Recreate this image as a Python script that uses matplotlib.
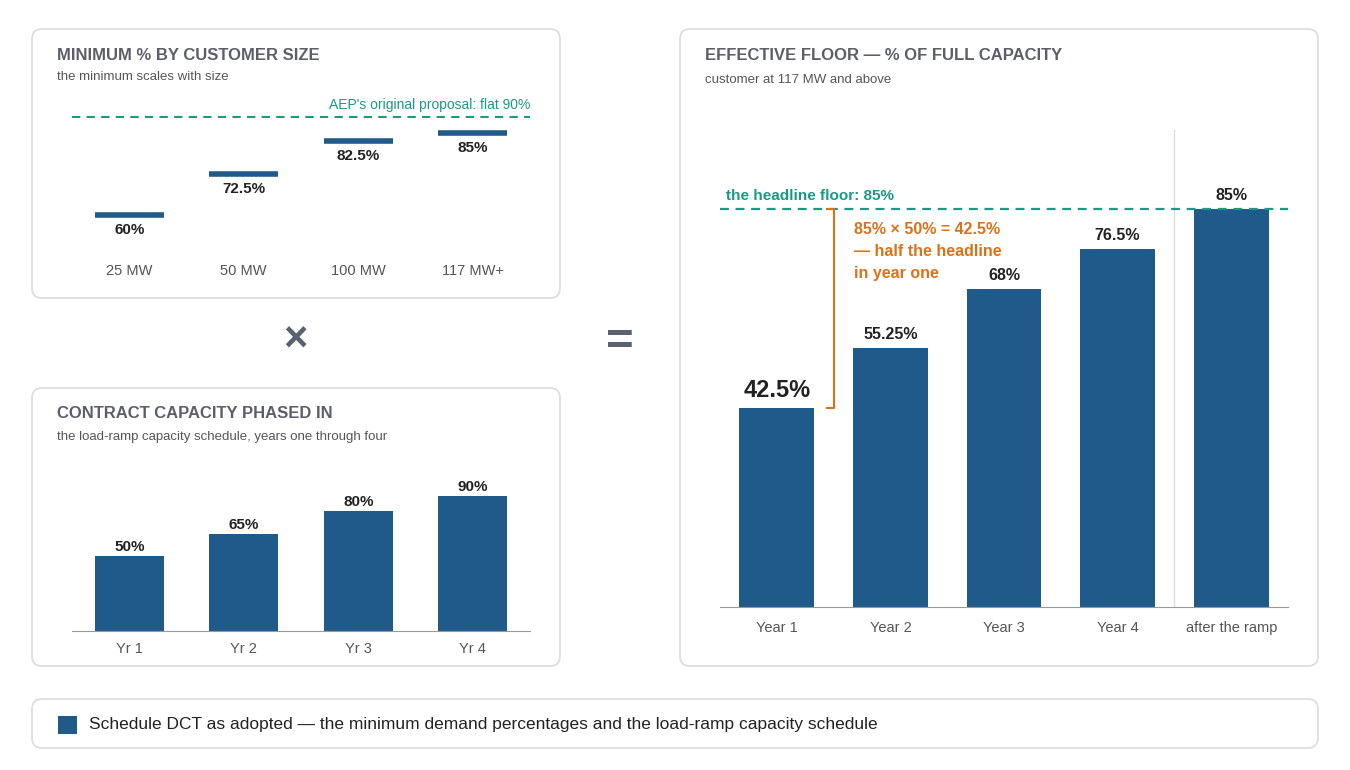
import matplotlib.pyplot as plt
from matplotlib.patches import FancyBboxPatch, Rectangle

plt.rcParams['font.family'] = ['Liberation Sans', 'DejaVu Sans']

BLUE = '#1f5a8a'
TEAL = '#1a9985'
ORANGE = '#d9731a'
TITLE = '#5a5f69'
GRAY = '#555555'

sizes = ['25 MW', '50 MW', '100 MW', '117 MW+']
min_pct = [60, 72.5, 82.5, 85]
min_lbl = ['60%', '72.5%', '82.5%', '85%']
aep_flat = 90

years = ['Yr 1', 'Yr 2', 'Yr 3', 'Yr 4']
ramp = [50, 65, 80, 90]
ramp_lbl = ['50%', '65%', '80%', '90%']

eff_cats = ['Year 1', 'Year 2', 'Year 3', 'Year 4', 'after the ramp']
eff = [42.5, 55.25, 68, 76.5, 85]
eff_lbl = ['42.5%', '55.25%', '68%', '76.5%', '85%']
headline = 85
note_lines = ['85% × 50% = 42.5%', '— half the headline', 'in year one']

W, H = 1350, 770
fig = plt.figure(figsize=(13.5, 7.7), dpi=100)
fig.patch.set_facecolor('white')

bg = fig.add_axes([0, 0, 1, 1])
bg.set_xlim(0, W)
bg.set_ylim(H, 0)
bg.axis('off')


def panel(x0, y0, x1, y1):
    bg.add_patch(FancyBboxPatch((x0, y0), x1 - x0, y1 - y0, boxstyle='round,pad=0,rounding_size=10',
                                fc='white', ec='#dcdcdc', lw=1.2))


def px_axes(x0, y0, x1, y1):
    ax = fig.add_axes([x0 / W, 1 - y1 / H, (x1 - x0) / W, (y1 - y0) / H])
    ax.patch.set_alpha(0)
    for s in ax.spines.values():
        s.set_visible(False)
    ax.set_yticks([])
    ax.tick_params(length=0, labelsize=10.5, labelcolor=GRAY)
    return ax


panel(32, 29, 560, 298)
panel(32, 388, 560, 666)
panel(680, 29, 1318, 666)
panel(32, 699, 1318, 748)

bg.text(57, 55, 'MINIMUM % BY CUSTOMER SIZE', fontsize=12, fontweight='bold', color=TITLE, va='center')
bg.text(57, 77, 'the minimum scales with size', fontsize=9.5, color=GRAY, va='center')
bg.text(57, 414, 'CONTRACT CAPACITY PHASED IN', fontsize=12, fontweight='bold', color=TITLE, va='center')
bg.text(57, 437, 'the load-ramp capacity schedule, years one through four', fontsize=9.5, color=GRAY, va='center')
bg.text(705, 55, 'EFFECTIVE FLOOR — % OF FULL CAPACITY', fontsize=12, fontweight='bold', color=TITLE, va='center')
bg.text(705, 80, 'customer at 117 MW and above', fontsize=9.5, color=GRAY, va='center')
bg.text(295, 340, '×', fontsize=30, fontweight='bold', color='#5a6270', ha='center', va='center')
bg.text(620, 343, '=', fontsize=34, fontweight='bold', color='#5a6270', ha='center', va='center')
bg.add_patch(Rectangle((58, 716), 19, 18, fc=BLUE))
bg.text(89, 725, 'Schedule DCT as adopted — the minimum demand percentages and the load-ramp capacity schedule',
        fontsize=12.5, color='#222222', va='center')

# top-left: minimum by size
ax1 = px_axes(72, 100, 530, 250)
ax1.set_xlim(-0.5, 3.5)
ax1.set_ylim(49.33, 95.06)
for i, v in enumerate(min_pct):
    ax1.hlines(v, i - 0.3, i + 0.3, color=BLUE, lw=4)
    ax1.text(i, v - 2.5, min_lbl[i], ha='center', va='top', fontsize=11, fontweight='bold', color='#222222')
ax1.axhline(aep_flat, color=TEAL, ls='--', lw=1.5, dashes=(4, 3))
ax1.text(3.5, aep_flat + 1.4, "AEP's original proposal: flat 90%", ha='right', va='bottom', fontsize=10, color=TEAL)
ax1.set_xticks(range(4))
ax1.set_xticklabels(sizes)
ax1.tick_params(axis='x', pad=10)

# bottom-left: ramp
ax2 = px_axes(72, 480, 530, 631)
ax2.set_xlim(-0.5, 3.5)
ax2.set_ylim(0, 101)
ax2.bar(range(4), ramp, width=0.6, color=BLUE)
for i, v in enumerate(ramp):
    ax2.text(i, v + 1.5, ramp_lbl[i], ha='center', va='bottom', fontsize=11, fontweight='bold', color='#222222')
ax2.spines['bottom'].set_visible(True)
ax2.spines['bottom'].set_color('#999999')
ax2.set_xticks(range(4))
ax2.set_xticklabels(years)
ax2.tick_params(axis='x', pad=8)

# right: effective floor
ax3 = px_axes(720, 130, 1288, 607)
ax3.set_xlim(-0.5, 4.5)
ax3.set_ylim(0, 101.9)
ax3.bar(range(5), eff, width=0.66, color=BLUE)
for i, v in enumerate(eff):
    big = i == 0
    ax3.text(i, v + 1.3, eff_lbl[i], ha='center', va='bottom', fontsize=17 if big else 11.5,
             fontweight='bold', color='#222222')
ax3.axvline(3.5, color='#dddddd', lw=1)
ax3.axhline(headline, color=TEAL, ls='--', lw=1.6, dashes=(4, 3))
ax3.text(-0.45, headline + 1.3, 'the headline floor: 85%', ha='left', va='bottom', fontsize=11,
         fontweight='bold', color=TEAL)
bx = 0.5
ax3.plot([bx - 0.06, bx, bx, bx - 0.06], [eff[0], eff[0], headline, headline], color=ORANGE, lw=1.5)
for k, line in enumerate(note_lines):
    ax3.text(0.68, 80.6 - 4.7 * k, line, ha='left', va='center', fontsize=11.5,
             fontweight='bold', color=ORANGE)
ax3.spines['bottom'].set_visible(True)
ax3.spines['bottom'].set_color('#999999')
ax3.set_xticks(range(5))
ax3.set_xticklabels(eff_cats)
ax3.tick_params(axis='x', pad=10)

fig.savefig('out.png', dpi=100)
